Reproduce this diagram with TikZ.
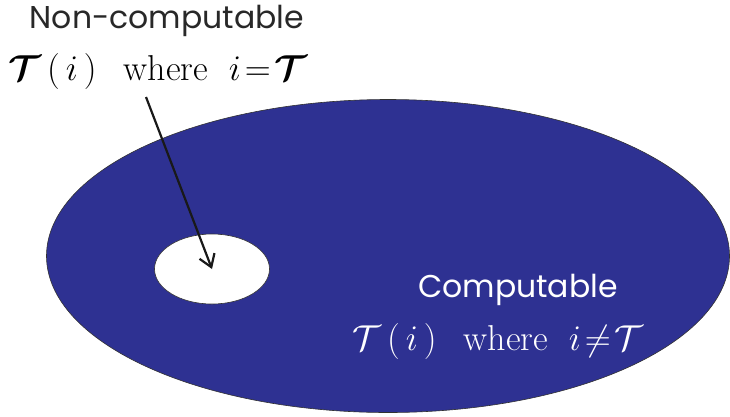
\RequirePackage{fix-cm}
\documentclass[tikz,border=0pt]{standalone}
\usepackage{amsmath,amssymb,bm}
\usepackage{fontspec}
\newfontfamily\labelfont{Poppins}
\usetikzlibrary{shapes.geometric,arrows.meta}
\definecolor{setblue}{RGB}{46,49,146}
\definecolor{edgegray}{RGB}{50,50,50}
\definecolor{textgray}{RGB}{40,40,40}

\begin{document}
\begin{tikzpicture}[x=1pt, y=-1pt,
    region/.style={ellipse, draw=edgegray, line width=0.6pt, inner sep=0pt},
    title/.style={anchor=base, font=\labelfont\fontsize{31.5}{38}\selectfont},
    formula/.style={anchor=base, font=\fontsize{36}{43}\selectfont},
    arrow/.style={-{Straight Barb[length=12pt,width=16pt,line width=2.2pt]}, line width=2.2pt}
]
    \useasboundingbox (0,0) rectangle (730,416);

    % Computable set
    \node[region, fill=setblue, minimum width=683pt, minimum height=313pt] (comp) at (388,256) {};

    % Non-computable set
    \node[region, fill=white, minimum width=115pt, minimum height=70pt] (noncomp) at (212,269) {};

    % Labels
    \node[title, text=textgray] (nclabel) at (167,28) {Non-computable};
    \node[formula, text=black] (ncformula) at (158,80)
        {$\bm{\mathcal{T}}\,(\,i\,)$\;\, where\; $i\!=\!\bm{\mathcal{T}}$};
    \node[title, text=white] (clabel) at (518,297) {Computable};
    \node[formula, text=white] (cformula) at (498,350)
        {$\mathcal{T}\,(\,i\,)$\;\, where\; $i\!\neq\!\mathcal{T}$};

    % Arrow
    \coordinate (tail) at (146,97);
    \draw[arrow, black!90] (tail) -- (noncomp.center);
\end{tikzpicture}
\end{document}
